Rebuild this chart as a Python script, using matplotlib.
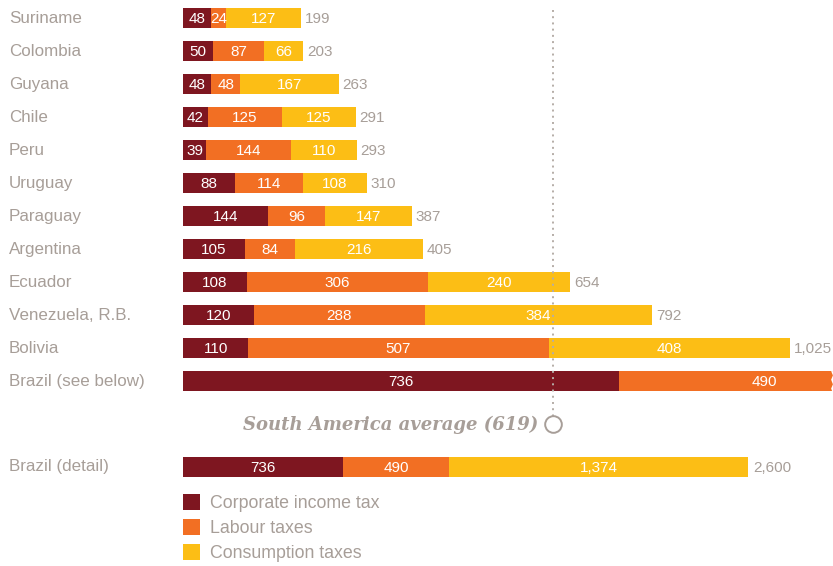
import matplotlib.pyplot as plt
import matplotlib.transforms as mtransforms
from matplotlib.patches import Patch

# tax per country, top section (same scale)
countries = ["Suriname", "Colombia", "Guyana", "Chile", "Peru", "Uruguay", "Paraguay",
             "Argentina", "Ecuador", "Venezuela, R.B.", "Bolivia", "Brazil (see below)"]
corporate = [48, 50, 48, 42, 39, 88, 144, 105, 108, 120, 110, 736]
labour = [24, 87, 48, 125, 144, 114, 96, 84, 306, 288, 507, 490]
consumption = [127, 66, 167, 125, 110, 108, 147, 216, 240, 384, 408, 1374]
totals = [199, 203, 263, 291, 293, 310, 387, 405, 654, 792, 1025, None]
average = 619

# Brazil detail (own scale)
detail_label = "Brazil (detail)"
detail_values = [736, 490, 1374]
detail_total = 2600

series_names = ["Corporate income tax", "Labour taxes", "Consumption taxes"]
colors = ["#7e1620", "#f26f23", "#fcbe15"]
grey = "#a79e98"

plt.rcParams['font.family'] = ['Liberation Sans', 'DejaVu Sans']

W, H = 833, 566
fig = plt.figure(figsize=(W / 100, H / 100), dpi=100)

left = 183 / W
width = (W - 183) / W
row_px = 33.0
y_top = -18.5 / row_px
y_bot = (H - 18.5) / row_px

ax = fig.add_axes([left, 0, width, 1])
ax.set_xlim(0, (W - 183) / 0.5925)
ax.set_ylim(y_bot, y_top)
ax.axis('off')

ax2 = fig.add_axes([left, 0, width, 1])
ax2.set_xlim(0, (W - 183) / 0.2173)
ax2.set_ylim(y_bot, y_top)
ax2.axis('off')
ax2.patch.set_alpha(0)

bar_h = 20 / row_px
label_tf = mtransforms.blended_transform_factory(fig.transFigure, ax.transData)

# average line, drawn over the bars
ax.plot([average + 5, average + 5], [-0.26, 12.1], color="#b5ada7", lw=1.4,
        linestyle=(0, (1, 2.2)), zorder=6)
ax.plot([average + 5], [12.3], marker='o', ms=12, mfc='white', mec="#a79e98", mew=1.4,
        zorder=6, clip_on=False)
ax.text(average - 19, 12.3, "South America average (619)", ha='right', va='center',
        family=['DejaVu Serif'], style='italic', weight='bold',
        fontsize=13, color=grey)

for i, name in enumerate(countries):
    segs = [corporate[i], labour[i]]
    if totals[i] is not None:
        segs.append(consumption[i])
    start = 0
    for j, v in enumerate(segs):
        ax.barh(i, v, left=start, height=bar_h, color=colors[j], lw=0, zorder=2)
        ax.text(start + v / 2, i + 0.02, f"{v:,}", ha='center', va='center',
                color='white', fontsize=11, zorder=4, clip_on=True)
        start += v
    ax.text(9 / W, i, name, transform=label_tf, ha='left', va='center',
            fontsize=12.25, color=grey)
    if totals[i] is not None:
        ax.text(start + 6, i + 0.02, f"{totals[i]:,}", ha='left', va='center',
                fontsize=11, color=grey)

# ragged edge where Brazil bar runs off the chart
xr = ax.get_xlim()[1]
zz_y = [11 - 0.33, 11 - 0.2, 11 - 0.07, 11 + 0.07, 11 + 0.2, 11 + 0.33]
zz_x = [xr - 4, xr - 1, xr - 4, xr - 1, xr - 4, xr - 1]
ax.fill_betweenx(zz_y, zz_x, xr + 5, color='white', lw=0, zorder=5, clip_on=False)

# Brazil detail
y_detail = (467 - 18.5) / row_px
start = 0
for j, v in enumerate(detail_values):
    ax2.barh(y_detail, v, left=start, height=bar_h, color=colors[j], lw=0, zorder=2)
    ax2.text(start + v / 2, y_detail + 0.02, f"{v:,}", ha='center', va='center',
             color='white', fontsize=11, zorder=4)
    start += v
ax2.text(start + 25, y_detail + 0.02, f"{detail_total:,}", ha='left', va='center',
         fontsize=11, color=grey)
ax2.text(9 / W, y_detail, detail_label, transform=label_tf, ha='left', va='center',
         fontsize=12.25, color=grey)

handles = [Patch(facecolor=c, edgecolor='none') for c in colors]
leg = ax2.legend(handles, series_names, loc='upper left', frameon=False,
                 bbox_to_anchor=(183 / W, 1 - 494 / H), bbox_transform=fig.transFigure,
                 fontsize=12.75, handlelength=0.98, handleheight=0.98, handletextpad=0.55,
                 labelspacing=0.4, borderpad=0, borderaxespad=0)
for t in leg.get_texts():
    t.set_color(grey)

fig.savefig("out.png", dpi=100)
